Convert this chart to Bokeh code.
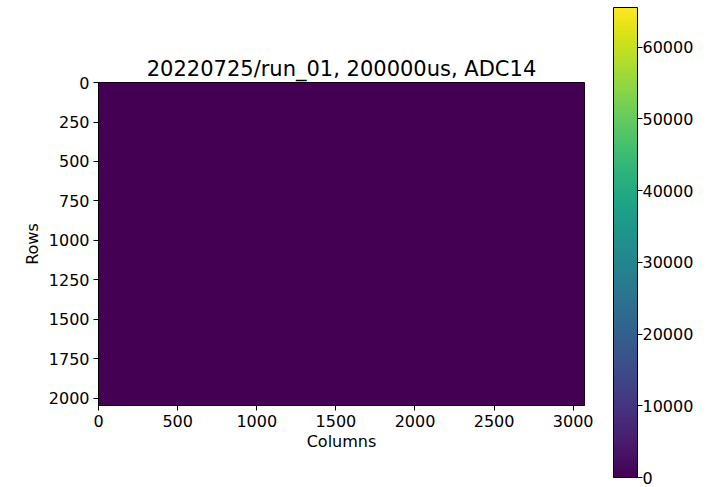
import numpy as np
from bokeh.plotting import figure
from bokeh.models import Range1d, LinearColorMapper, FixedTicker, ColorBar
from bokeh.palettes import Viridis256
from bokeh.embed import file_html
from bokeh.resources import INLINE

# ---- data ----
title_text = "20220725/run_01, 200000us, ADC14"
n_rows = 2048
n_cols = 3072
adc_max = 65535
# the frame reads uniformly at the bottom of the colour scale
frame_counts = [[0, 0, 0],
                [0, 0, 0]]
x_ticks = [0, 500, 1000, 1500, 2000, 2500, 3000]
y_ticks = [0, 250, 500, 750, 1000, 1250, 1500, 1750, 2000]
cbar_ticks = [0, 10000, 20000, 30000, 40000, 50000, 60000]

FONT = "DejaVu Sans"
mapper = LinearColorMapper(palette=Viridis256, low=0, high=adc_max)

# ---- main image ----
p = figure(width=706, height=487, frame_width=486, frame_height=323,
           min_border_left=98, min_border_right=122,
           min_border_top=82, min_border_bottom=82,
           x_range=Range1d(-0.5, n_cols - 0.5),
           y_range=Range1d(n_rows - 0.5, -0.5),
           toolbar_location=None, output_backend="svg",
           title=title_text)
p.image(image=[np.array(frame_counts, dtype=float)], x=-0.5, y=-0.5,
        dw=n_cols, dh=n_rows, color_mapper=mapper)

p.title.text_font = FONT
p.title.text_font_size = "21px"
p.title.text_font_style = "normal"
p.title.align = "center"
p.title.text_color = "black"
p.title.standoff = 4

p.xgrid.visible = False
p.ygrid.visible = False
p.outline_line_color = "black"
p.outline_line_width = 1

p.xaxis.ticker = FixedTicker(ticks=x_ticks)
p.yaxis.ticker = FixedTicker(ticks=y_ticks)
p.xaxis.axis_label = "Columns"
p.yaxis.axis_label = "Rows"
for ax in (p.xaxis, p.yaxis):
    ax.axis_label_text_font = FONT
    ax.axis_label_text_font_size = "16px"
    ax.axis_label_text_font_style = "normal"
    ax.axis_label_text_color = "black"
    ax.major_label_text_font = FONT
    ax.major_label_text_font_size = "16px"
    ax.major_label_text_color = "black"
    ax.major_tick_in = 0
    ax.major_tick_out = 5
    ax.minor_tick_in = 0
    ax.minor_tick_out = 0
    ax.major_tick_line_color = "black"
    ax.axis_line_color = "black"
    ax.axis_label_standoff = 2
    ax.major_label_standoff = 4
p.yaxis.axis_label_standoff = 4

# ---- colour bar ----
cb = ColorBar(color_mapper=mapper, location=(515, -72),
              width=24, height=470, padding=0, margin=0,
              ticker=FixedTicker(ticks=cbar_ticks),
              major_label_text_font=FONT,
              major_label_text_font_size="16px",
              major_label_text_color="black",
              major_tick_in=0, major_tick_out=5,
              major_tick_line_color="black",
              minor_tick_in=0, minor_tick_out=0,
              label_standoff=0,
              bar_line_color="black",
              border_line_color=None,
              background_fill_alpha=0)
p.add_layout(cb, "center")

open("out.html", "w").write(file_html(p, INLINE))
